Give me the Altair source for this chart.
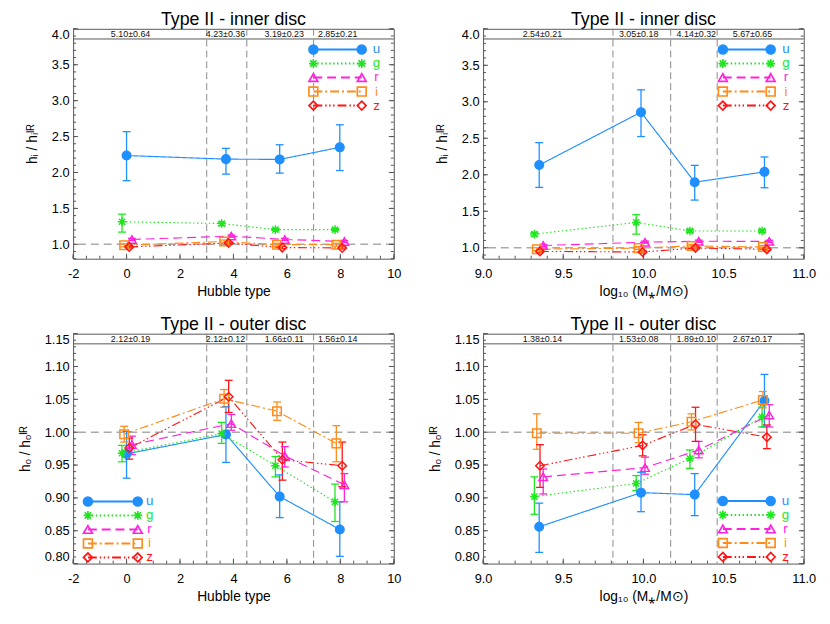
import altair as alt
import pandas as pd

# ---------------- data ----------------
bands = ["u", "g", "r", "i", "z"]
band_colors = ["#1f8fff", "#1ee61e", "#ff22dd", "#ff8c1a", "#ff1414"]

hub_x = {
    "u": [0.00, 3.72, 5.73, 7.98],
    "g": [-0.17, 3.56, 5.57, 7.80],
    "r": [0.20, 3.92, 5.92, 8.15],
    "i": [-0.09, 3.65, 5.63, 7.85],
    "z": [0.10, 3.82, 5.83, 8.07],
}
mass_x = {
    "u": [9.35, 9.985, 10.32, 10.755],
    "g": [9.32, 9.955, 10.29, 10.74],
    "r": [9.375, 10.01, 10.345, 10.785],
    "i": [9.335, 9.97, 10.30, 10.745],
    "z": [9.355, 9.995, 10.325, 10.77],
}

# inner disc vs Hubble type: (value, lower, upper)
inner_hub = {
    "u": ([2.236, 2.186, 2.182, 2.350], [1.886, 1.977, 1.991, 2.027], [2.568, 2.336, 2.386, 2.664]),
    "g": ([1.314, 1.290, 1.205, 1.205], [1.170, 1.260, 1.190, 1.190], [1.420, 1.310, 1.220, 1.220]),
    "r": ([1.068, 1.114, 1.068, 1.040], [1.053, 1.099, 1.053, 1.025], [1.083, 1.129, 1.083, 1.055]),
    "i": ([0.986, 1.040, 0.995, 0.995], [0.966, 1.020, 0.975, 0.975], [1.006, 1.060, 1.015, 1.015]),
    "z": ([0.964, 1.018, 0.955, 0.950], [0.949, 1.003, 0.940, 0.935], [0.979, 1.033, 0.970, 0.965]),
}
# inner disc vs stellar mass
inner_mass = {
    "u": ([2.133, 2.858, 1.898, 2.040], [1.827, 2.524, 1.653, 1.822], [2.440, 3.164, 2.129, 2.244]),
    "g": ([1.187, 1.347, 1.230, 1.230], [1.160, 1.187, 1.210, 1.210], [1.210, 1.453, 1.250, 1.250]),
    "r": ([1.031, 1.076, 1.089, 1.087], [1.016, 1.061, 1.074, 1.072], [1.046, 1.091, 1.104, 1.102]),
    "i": ([0.980, 0.995, 1.025, 1.010], [0.960, 0.975, 1.005, 0.990], [1.000, 1.015, 1.045, 1.030]),
    "z": ([0.950, 0.942, 0.996, 0.978], [0.935, 0.927, 0.981, 0.963], [0.965, 0.957, 1.011, 0.993]),
}
# outer disc vs Hubble type
outer_hub = {
    "u": ([0.967, 0.9965, 0.902, 0.852], [0.930, 0.954, 0.870, 0.811], [1.001, 1.039, 0.935, 0.894]),
    "g": ([0.968, 0.998, 0.949, 0.894], [0.955, 0.983, 0.932, 0.864], [0.980, 1.015, 0.963, 0.921]),
    "r": ([0.981, 1.013, 0.964, 0.920], [0.966, 1.003, 0.947, 0.894], [0.994, 1.027, 0.978, 0.937]),
    "i": ([0.997, 1.051, 1.032, 0.983], [0.985, 1.038, 1.018, 0.955], [1.009, 1.065, 1.046, 1.010]),
    "z": ([0.976, 1.054, 0.958, 0.949], [0.959, 1.030, 0.927, 0.917], [0.991, 1.079, 0.985, 0.985]),
}
# outer disc vs stellar mass
outer_mass = {
    "u": ([0.856, 0.908, 0.905, 1.048], [0.817, 0.879, 0.873, 1.008], [0.892, 0.939, 0.937, 1.088]),
    "g": ([0.902, 0.922, 0.960, 1.023], [0.875, 0.911, 0.945, 1.008], [0.932, 0.934, 0.973, 1.038]),
    "r": ([0.932, 0.946, 0.973, 1.026], [0.906, 0.936, 0.961, 1.008], [0.944, 0.962, 0.986, 1.042]),
    "i": ([0.9985, 0.9985, 1.016, 1.049], [0.974, 0.984, 1.0035, 1.037], [1.028, 1.015, 1.028, 1.062]),
    "z": ([0.949, 0.980, 1.012, 0.9925], [0.916, 0.964, 0.986, 0.975], [0.981, 0.996, 1.038, 1.011]),
}

hub_edges = [3.0, 4.5, 7.0]
mass_edges = [9.81, 10.17, 10.46]
hub_label_x = [0.15, 3.70, 5.90, 7.90]
mass_label_x = [9.37, 9.97, 10.33, 10.68]
inner_hub_txt = ["5.10±0.64", "4.23±0.36", "3.19±0.23", "2.85±0.21"]
inner_mass_txt = ["2.54±0.21", "3.05±0.18", "4.14±0.32", "5.67±0.65"]
outer_hub_txt = ["2.12±0.19", "2.12±0.12", "1.66±0.11", "1.56±0.14"]
outer_mass_txt = ["1.38±0.14", "1.53±0.08", "1.89±0.10", "2.67±0.17"]

hub_ticks = [-2, 0, 2, 4, 6, 8, 10]
mass_ticks = [9.0, 9.5, 10.0, 10.5, 11.0]
inner_ticks = [1.0, 1.5, 2.0, 2.5, 3.0, 3.5, 4.0]
outer_ticks = [0.80, 0.85, 0.90, 0.95, 1.00, 1.05, 1.10, 1.15]

# ---------------- style ----------------
W, H = 325, 233
FONT = "Liberation Sans"
AST = "M-1,0L1,0M0,-1L0,1M-0.72,-0.72L0.72,0.72M-0.72,0.72L0.72,-0.72"
shapes = ["circle", AST, "triangle-up", "square", "diamond"]
fills = [band_colors[0], "transparent", "transparent", "transparent", "transparent"]
dashes = [[1, 0], [1.5, 2.5], [9, 5], [9, 3, 2, 3], [9, 3, 1.5, 2.5, 1.5, 2.5, 1.5, 3]]
AXC = "#555555"

color_enc = alt.Color("band:N", scale=alt.Scale(domain=bands, range=band_colors), legend=None)
stroke_enc = alt.Stroke("band:N", scale=alt.Scale(domain=bands, range=band_colors), legend=None)
fill_enc = alt.Fill("band:N", scale=alt.Scale(domain=bands, range=fills), legend=None)
dash_enc = alt.StrokeDash("band:N", scale=alt.Scale(domain=bands, range=dashes), legend=None)
shape_enc = alt.Shape("band:N", scale=alt.Scale(domain=bands, range=shapes), legend=None)


def frange(a, b, step):
    n = int(round((b - a) / step))
    return [round(a + k * step, 4) for k in range(n + 1)]


def panel(title, xtitle, ytitle, xdom, ydom, xticks, xminor, xlab, yticks, yminor, yfmt,
          edges, lab_x, lab_txt, xs, vals, leg_px, leg_py0):
    xkw = dict(title=xtitle, values=xticks, ticks=False, domain=False, grid=False, labelPadding=9,
               labelFontSize=13, titleFontSize=14, titleFontWeight="normal", titlePadding=4,
               labelFlush=False, labelColor="black", titleColor="black")
    if xlab == "int":
        xkw["labelExpr"] = "'' + datum.value"
    else:
        xkw["format"] = ".1f"
    xaxis = alt.Axis(**xkw)
    yaxis = alt.Axis(title=ytitle, values=yticks, format=yfmt, ticks=False, domain=False, grid=False,
                     labelPadding=4, labelFontSize=13, titleFontSize=14, titleFontWeight="normal",
                     titlePadding=12, labelFlush=True, labelFlushOffset=0, labelOverlap=False,
                     labelColor="black", titleColor="black")
    xsc = alt.Scale(domain=xdom, nice=False, zero=False)
    ysc = alt.Scale(domain=ydom, nice=False, zero=False)

    def X(f):
        return alt.X(f, type="quantitative", scale=xsc, axis=xaxis)

    def Y(f):
        return alt.Y(f, type="quantitative", scale=ysc, axis=yaxis)

    def ry(px):
        return ydom[1] - px / H * (ydom[1] - ydom[0])

    def rx(px):
        return xdom[0] + px / W * (xdom[1] - xdom[0])

    rows = []
    for b in bands:
        v, lo, hi = vals[b]
        for k in range(len(v)):
            rows.append({"band": b, "x": xs[b][k], "y": v[k], "lo": lo[k], "hi": hi[k]})
    df = pd.DataFrame(rows)

    layers = []
    layers.append(alt.Chart(pd.DataFrame({"e": edges})).mark_rule(
        color="#8a8a8a", strokeDash=[7, 4], strokeWidth=1).encode(x=X("e")))
    layers.append(alt.Chart(pd.DataFrame({"v": [1.0]})).mark_rule(
        color="#aaaaaa", strokeDash=[8, 5], strokeWidth=1.6).encode(y=Y("v")))
    layers.append(alt.Chart(pd.DataFrame({"v": [ry(10.3)]})).mark_rule(
        color=AXC, strokeWidth=1).encode(y=Y("v")))
    layers.append(alt.Chart(pd.DataFrame({"lx": lab_x, "t": lab_txt, "ly": [ry(5.3)] * len(lab_x)})).mark_text(
        fontSize=9, color="#111111", baseline="middle", align="center").encode(x=X("lx"), y=Y("ly"), text="t:N"))
    ymaj = pd.DataFrame({"v": yticks})
    ymin_ = pd.DataFrame({"v": yminor})
    xmaj = pd.DataFrame({"v": xticks})
    xmin_ = pd.DataFrame({"v": xminor})
    for d, ln in ((ymaj, 5), (ymin_, 3)):
        layers.append(alt.Chart(d).mark_rule(color=AXC, strokeWidth=1).encode(
            y=Y("v"), x=alt.value(0), x2=alt.value(ln)))
        layers.append(alt.Chart(d).mark_rule(color=AXC, strokeWidth=1).encode(
            y=Y("v"), x=alt.value(W - ln), x2=alt.value(W)))
    for d, ln in ((xmaj, 5), (xmin_, 3)):
        layers.append(alt.Chart(d).mark_rule(color=AXC, strokeWidth=1).encode(
            x=X("v"), y=alt.value(H), y2=alt.value(H - ln)))

    base = alt.Chart(df)
    layers.append(base.mark_line(strokeWidth=1.15).encode(
        x=X("x"), y=Y("y"), color=color_enc, strokeDash=dash_enc, detail="band:N"))
    layers.append(base.mark_rule(strokeWidth=1.3).encode(
        x=X("x"), y=Y("lo"), y2="hi", color=color_enc))
    layers.append(base.mark_tick(orient="horizontal", size=8, thickness=1.3, opacity=1).encode(
        x=X("x"), y=Y("hi"), color=color_enc))
    layers.append(base.mark_tick(orient="horizontal", size=8, thickness=1.3, opacity=1).encode(
        x=X("x"), y=Y("lo"), color=color_enc))
    layers.append(base.mark_point(filled=False, opacity=1, size=75, strokeWidth=1.5).encode(
        x=X("x"), y=Y("y"), stroke=stroke_enc, fill=fill_enc, shape=shape_enc))

    leg = pd.DataFrame({
        "band": bands,
        "ly": [ry(leg_py0 + 14.2 * k) for k in range(len(bands))],
        "lx1": [rx(leg_px[0])] * len(bands),
        "lx2": [rx(leg_px[1])] * len(bands),
        "tx": [rx(leg_px[2])] * len(bands),
    })
    lb = alt.Chart(leg)
    layers.append(lb.mark_rule(strokeWidth=2).encode(
        x=X("lx1"), x2="lx2", y=Y("ly"), color=color_enc, strokeDash=dash_enc))
    for f in ("lx1", "lx2"):
        layers.append(lb.mark_point(filled=False, opacity=1, size=80, strokeWidth=1.7).encode(
            x=X(f), y=Y("ly"), stroke=stroke_enc, fill=fill_enc, shape=shape_enc))
    layers.append(lb.mark_text(fontSize=13.5, align="center", baseline="middle").encode(
        x=X("tx"), y=Y("ly"), text="band:N", color=color_enc))

    return alt.layer(*layers).properties(
        width=W, height=H,
        title=alt.TitleParams(title, fontSize=18, fontWeight="normal", offset=-1, anchor="middle", color="black"))


hub_minor = frange(-2, 10, 0.5)
mass_minor = frange(9.0, 11.0, 0.1)
in_minor_l = frange(0.8, 4.0, 0.1)
in_minor_r = frange(0.9, 4.0, 0.1)
out_minor = frange(0.80, 1.15, 0.01)

yt_in = "hᵢ / hᵢᴵᴿ"
yt_out = "hₒ / hₒᴵᴿ"
xt_hub = "Hubble type"
xt_mass = "log₁₀ (M⁎/M⊙)"

tl = panel("Type II - inner disc", xt_hub, yt_in, [-2, 10], [0.8, 4.0], hub_ticks, hub_minor, "int",
           inner_ticks, in_minor_l, ".1f", hub_edges, hub_label_x, inner_hub_txt, hub_x, inner_hub,
           (243.5, 292.5, 307.5), 21.0)
tr = panel("Type II - inner disc", xt_mass, yt_in, [9.0, 11.0], [0.85, 4.0], mass_ticks, mass_minor, "f",
           inner_ticks, in_minor_r, ".1f", mass_edges, mass_label_x, inner_mass_txt, mass_x, inner_mass,
           (243.0, 291.5, 307.0), 21.0)
bl = panel("Type II - outer disc", xt_hub, yt_out, [-2, 10], [0.8, 1.15], hub_ticks, hub_minor, "int",
           outer_ticks, out_minor, ".2f", hub_edges, hub_label_x, outer_hub_txt, hub_x, outer_hub,
           (15.0, 65.5, 77.5), 170.0)
br = panel("Type II - outer disc", xt_mass, yt_out, [9.0, 11.0], [0.8, 1.15], mass_ticks, mass_minor, "f",
           outer_ticks, out_minor, ".2f", mass_edges, mass_label_x, outer_mass_txt, mass_x, outer_mass,
           (243.0, 291.5, 306.5), 169.5)

chart = alt.concat(tl, tr, bl, br, columns=2, spacing={"row": 76, "column": 90.5}, bounds="flush").properties(
    padding={"left": 10, "top": -1, "right": 5, "bottom": 5}
).configure(font=FONT).configure_view(stroke=AXC, strokeWidth=1)

chart.save("out.html", embed_options={"renderer": "svg", "actions": False})
